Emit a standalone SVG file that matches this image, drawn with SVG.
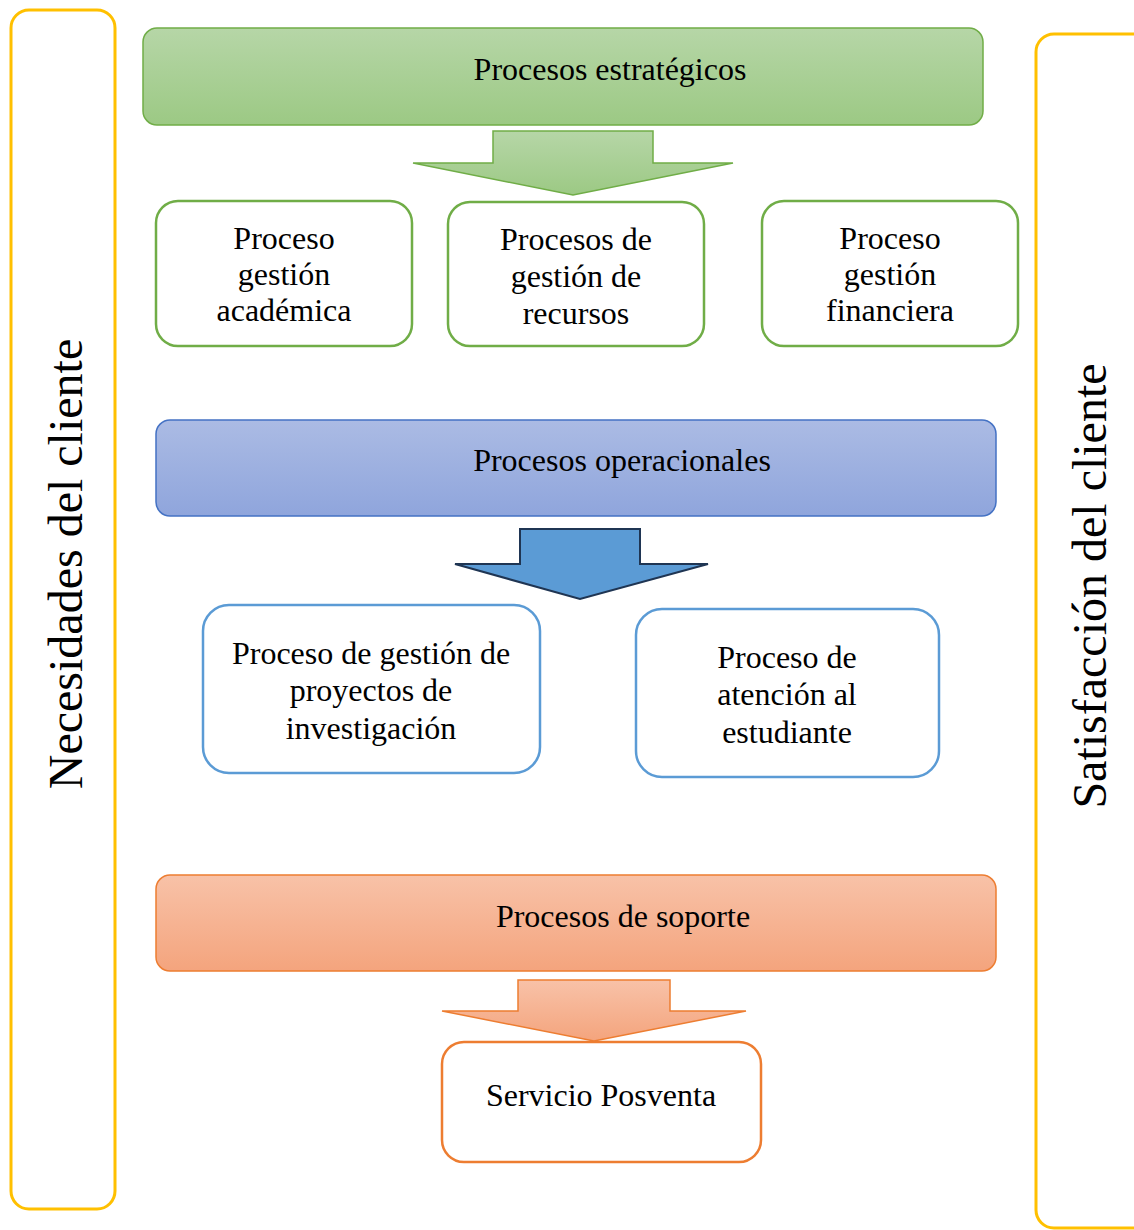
<svg xmlns="http://www.w3.org/2000/svg" width="1134" height="1230" viewBox="0 0 1134 1230" font-family="'Liberation Serif', 'Times New Roman', 'DejaVu Serif', serif">
<style>
text{font-family:'Liberation Serif','Times New Roman','DejaVu Serif',serif;fill:#000;text-anchor:middle}
.t{font-size:32px}
.v{font-size:48px}
.side{fill:none;stroke:#ffc000;stroke-width:3}
.gb{fill:#fff;stroke:#70ad47;stroke-width:2.5}
.bb{fill:#fff;stroke:#5b9bd5;stroke-width:2.5}
.ob{fill:#fff;stroke:#ed7d31;stroke-width:2.5}
</style>
<defs>
<linearGradient id="gg" x1="0" y1="0" x2="0" y2="1"><stop offset="0" stop-color="#b6d6a7"/><stop offset="1" stop-color="#9cc984"/></linearGradient>
<linearGradient id="bg" x1="0" y1="0" x2="0" y2="1"><stop offset="0" stop-color="#abbbe4"/><stop offset="1" stop-color="#8fa5dc"/></linearGradient>
<linearGradient id="og" x1="0" y1="0" x2="0" y2="1"><stop offset="0" stop-color="#f8c2a8"/><stop offset="1" stop-color="#f4a47d"/></linearGradient>
</defs>
<g id="necesidades">
<rect class="side" x="11" y="10" width="104" height="1199" rx="18"/>
<text class="v" font-family="Liberation Serif" transform="translate(82,564) rotate(-90)">Necesidades del cliente</text>
</g>
<g id="satisfaccion">
<rect class="side" x="1036" y="34" width="130" height="1194" rx="18"/>
<text class="v" font-family="Liberation Serif" transform="translate(1106,586) rotate(-90)">Satisfacción del cliente</text>
</g>
<g id="estrategicos">
<rect x="143" y="28" width="840" height="97" rx="14" fill="url(#gg)" stroke="#70ad47" stroke-width="1.5"/>
<text class="t" x="610" y="80">Procesos estratégicos</text>
</g>
<g id="academica">
<rect class="gb" x="156" y="201" width="256" height="145" rx="22"/>
<text class="t" x="284" y="249">Proceso</text>
<text class="t" x="284" y="285">gestión</text>
<text class="t" x="284" y="321">académica</text>
</g>
<g id="recursos">
<rect class="gb" x="448" y="202" width="256" height="144" rx="22"/>
<text class="t" x="576" y="250">Procesos de</text>
<text class="t" x="576" y="287">gestión de</text>
<text class="t" x="576" y="324">recursos</text>
</g>
<g id="financiera">
<rect class="gb" x="762" y="201" width="256" height="145" rx="22"/>
<text class="t" x="890" y="249">Proceso</text>
<text class="t" x="890" y="285">gestión</text>
<text class="t" x="890" y="321">financiera</text>
</g>
<g id="operacionales">
<rect x="156" y="420" width="840" height="96" rx="14" fill="url(#bg)" stroke="#4472c4" stroke-width="1.5"/>
<text class="t" x="622" y="471">Procesos operacionales</text>
</g>
<g id="proyectos">
<rect class="bb" x="203" y="605" width="337" height="168" rx="26"/>
<text class="t" x="371" y="664">Proceso de gestión de</text>
<text class="t" x="371" y="701">proyectos de</text>
<text class="t" x="371" y="739">investigación</text>
</g>
<g id="atencion">
<rect class="bb" x="636" y="609" width="303" height="168" rx="26"/>
<text class="t" x="787" y="668">Proceso de</text>
<text class="t" x="787" y="705">atención al</text>
<text class="t" x="787" y="743">estudiante</text>
</g>
<g id="soporte">
<rect x="156" y="875" width="840" height="96" rx="14" fill="url(#og)" stroke="#ed7d31" stroke-width="1.5"/>
<text class="t" x="623" y="927">Procesos de soporte</text>
</g>
<g id="posventa">
<rect class="ob" x="442" y="1042" width="319" height="120" rx="22"/>
<text class="t" x="601" y="1106">Servicio Posventa</text>
</g>
<g id="connectors">
<path d="M493,131 H653 V163 H733 L573,195 L413,163 H493 Z" fill="url(#gg)" stroke="#70ad47" stroke-width="1.5"/>
<path d="M520,529 H640 V564 H708 L580,599 L455,564 H520 Z" fill="#5b9bd5" stroke="#1f3553" stroke-width="2"/>
<path d="M518,980 H670 V1011 H746 L594,1041 L442,1011 H518 Z" fill="url(#og)" stroke="#ed7d31" stroke-width="1.5"/>
</g>
</svg>
